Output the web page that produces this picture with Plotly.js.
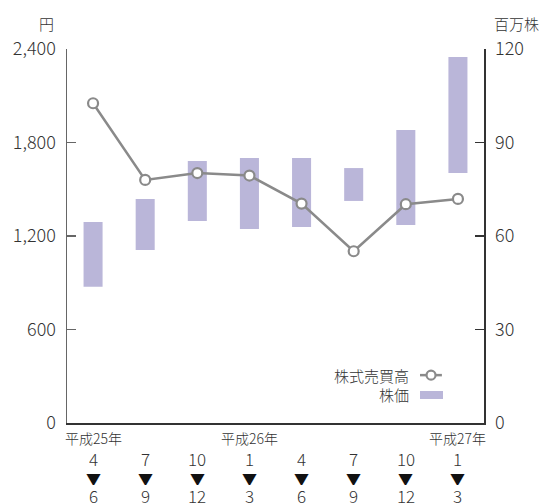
<!DOCTYPE html>
<html>
<head>
<meta charset="utf-8">
<script src="https://cdn.plot.ly/plotly-3.0.1.min.js"></script>
<style>html,body{margin:0;padding:0;background:#fff;}#chart{width:545px;height:503px;}</style>
</head>
<body>
<div id="chart"></div>
<script>
// Data
const quarterIndex = [0, 1, 2, 3, 4, 5, 6, 7];
const startMonths = ['4', '7', '10', '1', '4', '7', '10', '1'];
const endMonths = ['6', '9', '12', '3', '6', '9', '12', '3'];
const yearLabels = ['平成25年', '平成26年', '平成27年'];
const yearAt = [0, 3, 7];
const priceHigh = [1290, 1437, 1681, 1700, 1700, 1636, 1880, 2349];
const priceLow = [875, 1110, 1296, 1245, 1258, 1425, 1271, 1604];
const volume = [102.6, 78.0, 80.2, 79.4, 70.4, 55.1, 70.2, 71.9];
const leftTicks = [0, 600, 1200, 1800, 2400];
const rightTicks = [0, 30, 60, 90, 120];

const FONT = '"Noto Sans CJK JP", "Noto Sans", sans-serif';
const TXT = '#333333';
const BAR = '#bab6d9';
const LINE = '#8a8a8a';
const W = 300;

const priceTrace = {
  type: 'bar',
  x: quarterIndex,
  base: priceLow,
  y: priceHigh.map((h, i) => h - priceLow[i]),
  width: 0.365,
  marker: {color: BAR, line: {width: 0}},
  yaxis: 'y',
  hoverinfo: 'skip',
  showlegend: false
};

const volumeTrace = {
  type: 'scatter',
  mode: 'lines+markers',
  x: quarterIndex,
  y: volume,
  yaxis: 'y2',
  line: {color: LINE, width: 2.5},
  marker: {symbol: 'circle', size: 10, color: '#ffffff', line: {color: LINE, width: 2.2}},
  hoverinfo: 'skip',
  showlegend: false
};

const annotations = [];
quarterIndex.forEach((q, i) => {
  annotations.push({xref: 'x', yref: 'paper', x: q, y: 0, yshift: -35, text: startMonths[i],
    showarrow: false, yanchor: 'middle', height: 15, borderpad: 0,
    font: {family: FONT, size: 17, color: TXT, weight: W}});
  annotations.push({xref: 'x', yref: 'paper', x: q, y: 0, yshift: -54.5, text: '▼',
    showarrow: false, yanchor: 'middle', height: 14, borderpad: 0,
    font: {family: FONT, size: 15, color: '#111111'}});
  annotations.push({xref: 'x', yref: 'paper', x: q, y: 0, yshift: -72.5, text: endMonths[i],
    showarrow: false, yanchor: 'middle', height: 15, borderpad: 0,
    font: {family: FONT, size: 17, color: TXT, weight: W}});
});
yearLabels.forEach((t, i) => {
  annotations.push({xref: 'x', yref: 'paper', x: yearAt[i], y: 0, yshift: -15, text: t,
    showarrow: false, yanchor: 'middle', borderpad: 0, font: {family: FONT, size: 14, color: TXT, weight: W}});
});
// axis unit titles
annotations.push({xref: 'paper', yref: 'paper', x: -0.048, y: 1.0695, text: '円', showarrow: false,
  xanchor: 'center', yanchor: 'middle', font: {family: FONT, size: 15, color: TXT, weight: W}});
annotations.push({xref: 'paper', yref: 'paper', x: 1.077, y: 1.0695, text: '百万株', showarrow: false,
  xanchor: 'center', yanchor: 'middle', font: {family: FONT, size: 15, color: TXT, weight: W}});
// legend texts
annotations.push({xref: 'paper', yref: 'paper', x: 0.825, y: 0.128, text: '株式売買高', showarrow: false,
  xanchor: 'right', yanchor: 'middle', font: {family: FONT, size: 15, color: TXT, weight: W}});
annotations.push({xref: 'paper', yref: 'paper', x: 0.825, y: 0.077, text: '株価', showarrow: false,
  xanchor: 'right', yanchor: 'middle', font: {family: FONT, size: 15, color: TXT, weight: W}});

const shapes = [
  {type: 'line', xref: 'paper', yref: 'paper', x0: 0.8465, x1: 0.899, y0: 0.128, y1: 0.128,
    line: {color: LINE, width: 2.5}},
  {type: 'circle', xref: 'paper', yref: 'paper', xsizemode: 'pixel', ysizemode: 'pixel',
    xanchor: 0.873, yanchor: 0.128, x0: -4.5, x1: 4.5, y0: -4.5, y1: 4.5,
    fillcolor: '#ffffff', line: {color: LINE, width: 2.2}},
  {type: 'rect', xref: 'paper', yref: 'paper', x0: 0.8465, x1: 0.9017, y0: 0.0642, y1: 0.0856,
    fillcolor: BAR, line: {width: 0}}
];

const layout = {
  width: 545, height: 503,
  margin: {l: 67, r: 61, t: 49, b: 80, pad: 0},
  paper_bgcolor: '#ffffff', plot_bgcolor: '#ffffff',
  font: {family: FONT, color: TXT, weight: W},
  showlegend: false,
  xaxis: {
    range: [-0.5, 7.5], showgrid: false, zeroline: false, showticklabels: false, ticks: '',
    showline: true, linecolor: '#333333', linewidth: 1.5, fixedrange: true
  },
  yaxis: {
    range: [0, 2400], tickvals: leftTicks, tickformat: ',d', showgrid: false, zeroline: false,
    showline: true, linecolor: '#666666', linewidth: 1.5, ticks: 'inside', ticklen: 9,
    tickcolor: '#666666', tickwidth: 1.5, ticklabelstandoff: 6,
    tickfont: {family: FONT, size: 18, color: TXT, weight: W}
  },
  yaxis2: {
    range: [0, 120], tickvals: rightTicks, overlaying: 'y', side: 'right', showgrid: false,
    zeroline: false, showline: true, linecolor: '#333333', linewidth: 1.5, ticks: 'inside',
    ticklen: 9, tickcolor: '#333333', tickwidth: 1.5, ticklabelstandoff: 6,
    tickfont: {family: FONT, size: 18, color: TXT, weight: W}
  },
  annotations: annotations,
  shapes: shapes
};

Plotly.newPlot('chart', [priceTrace, volumeTrace], layout, {staticPlot: true, displayModeBar: false});
</script>
</body>
</html>
